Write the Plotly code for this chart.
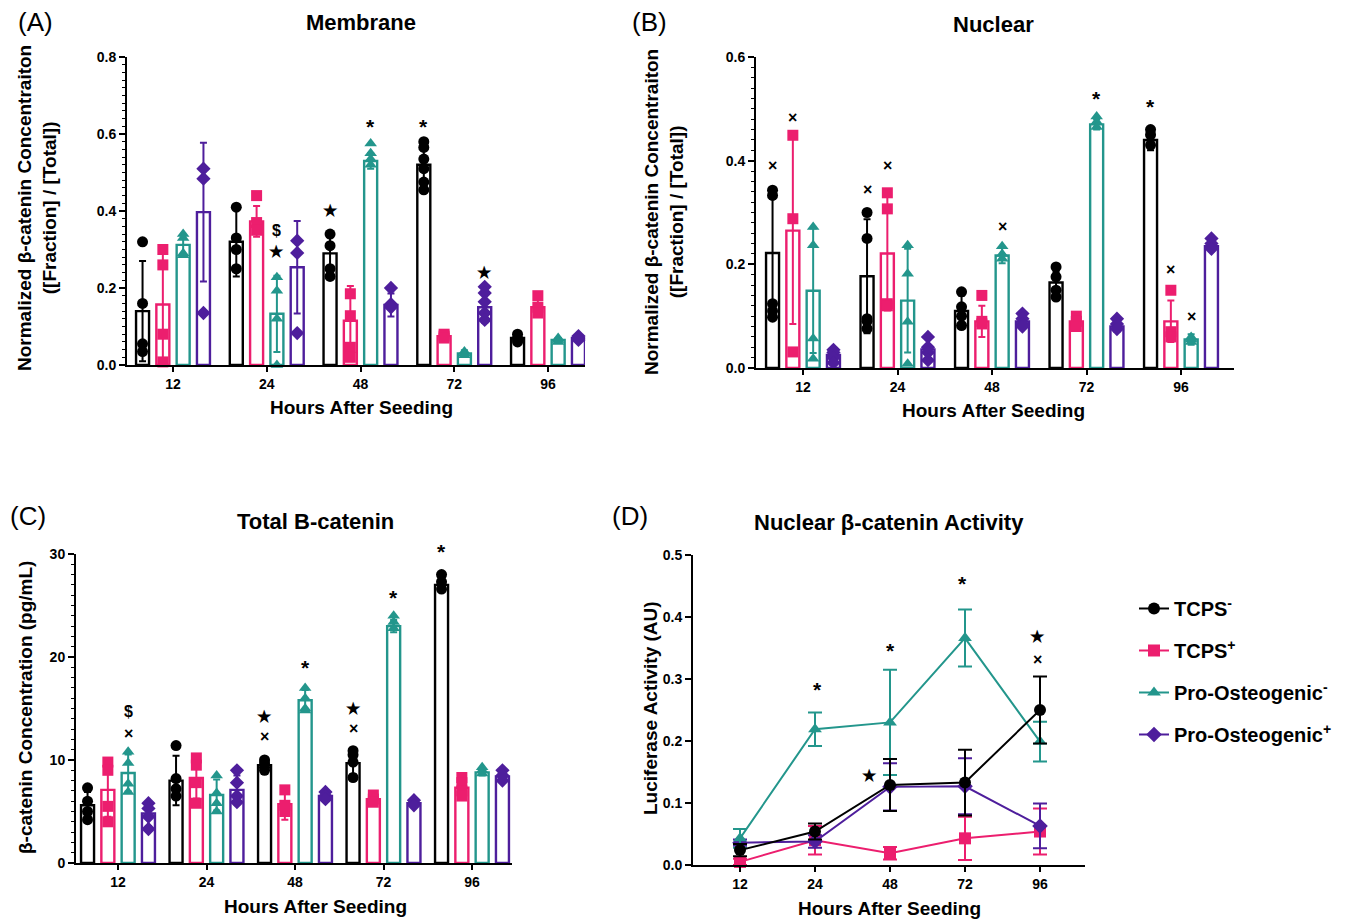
import plotly.graph_objects as go

W, H = 1348, 919
FONT = "Liberation Sans, Arial, sans-serif"

hours = ["12", "24", "48", "72", "96"]
group_names = ["TCPS<sup>-</sup>", "TCPS<sup>+</sup>",
               "Pro-Osteogenic<sup>-</sup>", "Pro-Osteogenic<sup>+</sup>"]
group_colors = ["#000000", "#EC1E6E", "#23968C", "#4E1E9C"]
group_symbols = ["circle", "square", "triangle-up", "diamond"]

# ---------------- (A) Membrane ----------------
membrane_mean = [
    [0.14, 0.32, 0.29, 0.52, 0.07],
    [0.157, 0.373, 0.115, 0.075, 0.15],
    [0.312, 0.133, 0.53, 0.03, 0.065],
    [0.397, 0.254, 0.156, 0.15, 0.07],
]
membrane_sd = [
    [0.13, 0.09, 0.05, 0.04, 0.01],
    [0.145, 0.04, 0.09, 0.005, 0.02],
    [0.025, 0.099, 0.02, 0.008, 0.005],
    [0.18, 0.12, 0.03, 0.04, 0.006],
]
membrane_points = [
    [[0.32, 0.16, 0.055, 0.035], [0.41, 0.33, 0.30, 0.25], [0.34, 0.31, 0.25, 0.23],
     [0.58, 0.565, 0.535, 0.51, 0.475, 0.455], [0.08, 0.07, 0.065, 0.06]],
    [[0.30, 0.26, 0.08, 0.008], [0.44, 0.37, 0.35], [0.185, 0.128, 0.046, 0.02],
     [0.08, 0.075, 0.07], [0.18, 0.15, 0.135]],
    [[0.34, 0.33, 0.29, 0.285], [0.228, 0.193, 0.12, 0.0], [0.575, 0.55, 0.535, 0.52],
     [0.035, 0.03, 0.025], [0.07, 0.065, 0.06]],
    [[0.51, 0.484, 0.135], [0.323, 0.291, 0.083], [0.20, 0.158, 0.15],
     [0.203, 0.187, 0.164, 0.135, 0.117], [0.075, 0.07, 0.065]],
]
membrane_marks = [  # (group, hour index, y, symbol)
    (2, 1, 0.35, "$"), (2, 1, 0.295, "★"), (0, 2, 0.40, "★"),
    (2, 2, 0.63, "*"), (0, 3, 0.63, "*"), (3, 3, 0.24, "★"),
]

# ---------------- (B) Nuclear ----------------
nuclear_mean = [
    [0.222, 0.177, 0.11, 0.165, 0.44],
    [0.265, 0.221, 0.09, 0.09, 0.09],
    [0.149, 0.13, 0.217, 0.47, 0.055],
    [0.025, 0.036, 0.09, 0.08, 0.235],
]
nuclear_sd = [
    [0.12, 0.11, 0.03, 0.02, 0.02],
    [0.18, 0.11, 0.03, 0.01, 0.04],
    [0.12, 0.10, 0.015, 0.01, 0.01],
    [0.01, 0.02, 0.01, 0.01, 0.01],
]
nuclear_points = [
    [[0.343, 0.333, 0.124, 0.11, 0.098], [0.30, 0.25, 0.095, 0.076, 0.09],
     [0.147, 0.118, 0.10, 0.082], [0.195, 0.176, 0.15, 0.137], [0.46, 0.45, 0.43]],
    [[0.449, 0.288, 0.031], [0.338, 0.307, 0.124, 0.12], [0.14, 0.09, 0.085],
     [0.10, 0.09, 0.08], [0.15, 0.07, 0.06]],
    [[0.272, 0.237, 0.057, 0.018], [0.237, 0.182, 0.089, 0.008], [0.235, 0.22, 0.211],
     [0.485, 0.475, 0.465], [0.06, 0.055, 0.05]],
    [[0.035, 0.03, 0.02, 0.01], [0.06, 0.04, 0.03, 0.015], [0.105, 0.095, 0.085, 0.08],
     [0.095, 0.085, 0.075], [0.25, 0.24, 0.23]],
]
nuclear_marks = [
    (0, 0, 0.39, "×"), (1, 0, 0.484, "×"), (0, 1, 0.345, "×"), (1, 1, 0.39, "×"),
    (2, 2, 0.273, "×"), (2, 3, 0.527, "*"), (0, 4, 0.512, "*"),
    (1, 4, 0.19, "×"), (2, 4, 0.10, "×"),
]

# ---------------- (C) Total B-catenin ----------------
total_mean = [
    [5.6, 8.0, 9.5, 9.7, 27.0],
    [7.1, 8.25, 5.7, 6.2, 7.3],
    [8.74, 6.6, 15.8, 23.0, 8.8],
    [4.8, 7.1, 6.5, 5.8, 8.4],
]
total_sd = [
    [1.3, 2.4, 0.4, 1.1, 0.7],
    [2.6, 2.0, 1.5, 0.4, 0.8],
    [1.8, 1.5, 1.0, 0.6, 0.3],
    [1.2, 1.4, 0.4, 0.3, 0.5],
]
total_points = [
    [[7.3, 6.0, 5.0, 4.2], [11.4, 8.2, 7.2, 6.5], [10.0, 9.7, 9.3, 9.0],
     [10.9, 10.5, 9.8, 8.3], [28.0, 27.3, 26.6]],
    [[9.8, 9.0, 5.5, 4.0], [10.2, 9.5, 7.8, 5.8], [7.1, 5.6, 5.0],
     [6.6, 6.2, 5.9], [8.3, 7.8, 7.0, 6.5]],
    [[10.8, 9.7, 7.7, 6.9], [8.5, 6.8, 5.8, 5.0], [17.0, 16.0, 15.0, 14.8],
     [24.0, 23.4, 22.8], [9.3, 9.0, 8.7]],
    [[5.8, 5.3, 4.5, 3.3], [9.0, 7.8, 6.5, 5.9], [6.9, 6.5, 6.2],
     [6.1, 5.8, 5.6], [9.0, 8.5, 8.0]],
]
total_marks = [
    (2, 0, 14.7, "$"), (2, 0, 12.6, "×"), (0, 2, 14.2, "★"), (0, 2, 12.3, "×"),
    (2, 2, 19.4, "*"), (0, 3, 15.0, "★"), (0, 3, 13.1, "×"), (2, 3, 26.2, "*"),
    (0, 4, 30.6, "*"),
]

# ---------------- (D) Nuclear activity ----------------
activity_mean = [
    [0.024, 0.054, 0.129, 0.133, 0.25],
    [0.005, 0.04, 0.019, 0.043, 0.054],
    [0.043, 0.219, 0.23, 0.366, 0.199],
    [0.036, 0.038, 0.126, 0.127, 0.063],
]
activity_sd = [
    [0.01, 0.013, 0.042, 0.053, 0.054],
    [0.005, 0.023, 0.01, 0.035, 0.037],
    [0.015, 0.027, 0.085, 0.046, 0.032],
    [0.005, 0.01, 0.038, 0.045, 0.036],
]
activity_marks = [  # (x position in hour-index units, y, symbol)
    (1.03, 0.29, "*"), (2.0, 0.352, "*"), (2.97, 0.46, "*"),
    (1.73, 0.145, "★"), (3.97, 0.368, "★"), (3.97, 0.332, "×"),
]


def px_x(p):
    return p / W


def px_y(p):
    # empirical vertical correction of the rendered page
    q = (p - 8.0) / 0.9826
    return 1 - q / H


fig = go.Figure()

bar_panels = [
    dict(ax="", left=127, right=585, top=57, bottom=365, c0=173, step=93.75, ymax=0.8, dtick=0.2,
         minor=0.02, fmt=".1f", mean=membrane_mean, sd=membrane_sd, pts=membrane_points,
         marks=membrane_marks),
    dict(ax="2", left=756, right=1234, top=57, bottom=368, c0=803, step=94.5, ymax=0.6, dtick=0.2,
         minor=0.02, fmt=".1f", mean=nuclear_mean, sd=nuclear_sd, pts=nuclear_points,
         marks=nuclear_marks),
    dict(ax="3", left=76, right=512, top=554, bottom=863, c0=118, step=88.5, ymax=30, dtick=10,
         minor=1, fmt="d", mean=total_mean, sd=total_sd, pts=total_points,
         marks=total_marks),
]

tickfont = dict(family=FONT, size=14, color="black", weight="bold")

for p in bar_panels:
    xa = "x" + p["ax"]
    ya = "y" + p["ax"]
    slot = 20.3 / p["step"]
    bw = 13.0 / p["step"]
    ppu = (p["bottom"] - p["top"]) / p["ymax"]  # px per data unit
    for g in range(4):
        off = (g - 1.5) * slot
        xs = [i + off for i in range(len(hours))]
        col = group_colors[g]
        fig.add_trace(go.Bar(
            x=xs, y=p["mean"][g], width=bw, xaxis=xa, yaxis=ya,
            marker=dict(color="white", line=dict(color=col, width=2.4)),
            error_y=dict(type="data", array=p["sd"][g], color=col, thickness=2, width=3.5),
            showlegend=False, hoverinfo="skip"))
    for g in range(4):
        off = (g - 1.5) * slot
        col = group_colors[g]
        px_, py_ = [], []
        for i, vals in enumerate(p["pts"][g]):
            for v in vals:
                px_.append(i + off)
                py_.append(v)
        fig.add_trace(go.Scatter(
            x=px_, y=py_, mode="markers", xaxis=xa, yaxis=ya, cliponaxis=False,
            marker=dict(symbol=group_symbols[g], size=11, color=col, line=dict(width=0)),
            showlegend=False, hoverinfo="skip"))
    for (g, i, yv, s) in p["marks"]:
        shift = -4 if s == "*" else 0
        yy = yv
        if yv > p["ymax"]:
            shift += (yv - p["ymax"]) * ppu
            yy = p["ymax"]
        fig.add_annotation(
            x=i + (g - 1.5) * slot, y=yy, xref=xa, yref=ya, text=s, showarrow=False,
            font=dict(family=FONT, size=21 if s == "*" else 16, color="black", weight="bold"),
            yshift=shift)

    xr = [(p["left"] - p["c0"]) / p["step"], (p["right"] - p["c0"]) / p["step"]]
    fig.update_layout(**{
        "xaxis" + p["ax"]: dict(
            domain=[px_x(p["left"]), px_x(p["right"])], range=xr, anchor=ya,
            tickvals=list(range(len(hours))), ticktext=hours, showline=True, linecolor="black",
            linewidth=2, ticks="outside", ticklen=5, tickwidth=2, tickcolor="black",
            showgrid=False, zeroline=False, tickfont=tickfont),
        "yaxis" + p["ax"]: dict(
            domain=[px_y(p["bottom"]), px_y(p["top"])], range=[0, p["ymax"]], anchor=xa,
            dtick=p["dtick"], tick0=0, tickformat=p["fmt"], showline=True, linecolor="black",
            linewidth=2, ticks="outside", ticklen=6, tickwidth=2, tickcolor="black",
            showgrid=False, zeroline=False, tickfont=tickfont,
            minor=dict(ticks="outside", ticklen=3, tickwidth=1, tickcolor="black",
                       dtick=p["minor"], showgrid=False)),
    })

# ---------------- panel D line chart ----------------
d_left, d_right, d_top, d_bottom, d_c0, d_step = 693, 1085, 555, 865, 740, 75.0
draw_order = [1, 3, 2, 0]
for g in draw_order:
    col = group_colors[g]
    fig.add_trace(go.Scatter(
        x=list(range(len(hours))), y=activity_mean[g], xaxis="x4", yaxis="y4",
        mode="lines+markers", name=group_names[g], legendrank=g + 1, legendgroup=str(g),
        line=dict(color=col, width=2),
        marker=dict(symbol=group_symbols[g], size=12, color=col),
        error_y=dict(type="data", array=activity_sd[g], color=col, thickness=2, width=7),
        cliponaxis=False, hoverinfo="skip"))
for (xv, yv, s) in activity_marks:
    fig.add_annotation(x=xv, y=yv, xref="x4", yref="y4", text=s, showarrow=False,
                       font=dict(family=FONT, size=21 if s == "*" else 16, color="black",
                                 weight="bold"),
                       yshift=-4 if s == "*" else 0)

fig.update_layout(
    xaxis4=dict(domain=[px_x(d_left), px_x(d_right)],
                range=[(d_left - d_c0) / d_step, (d_right - d_c0) / d_step], anchor="y4",
                tickvals=list(range(len(hours))), ticktext=hours, showline=True,
                linecolor="black", linewidth=2, ticks="outside", ticklen=5, tickwidth=2,
                tickcolor="black", showgrid=False, zeroline=False, tickfont=tickfont),
    yaxis4=dict(domain=[px_y(d_bottom), px_y(d_top)], range=[0, 0.5], anchor="x4", dtick=0.1,
                tickformat=".1f", showline=True, linecolor="black", linewidth=2,
                ticks="outside", ticklen=6, tickwidth=2, tickcolor="black", showgrid=False,
                zeroline=False, tickfont=tickfont),
)


# ---------------- text ----------------
def txt(x, y, s, size, bold=True, angle=0, xanchor="center"):
    fig.add_annotation(x=px_x(x), y=px_y(y), xref="paper", yref="paper", text=s,
                       showarrow=False, textangle=angle, xanchor=xanchor, yanchor="middle",
                       font=dict(family=FONT, size=size, color="black",
                                 weight="bold" if bold else "normal"))


txt(16, 22, "(A)", 26, bold=False, xanchor="left")
txt(630, 22, "(B)", 26, bold=False, xanchor="left")
txt(8, 516, "(C)", 26, bold=False, xanchor="left")
txt(610, 516, "(D)", 26, bold=False, xanchor="left")

txt(361, 23, "Membrane", 22)
txt(993, 25, "Nuclear", 22)
txt(315, 522, "Total B-catenin", 22)
txt(889, 523, "Nuclear β-catenin Activity", 22)

txt(361, 408, "Hours After Seeding", 19)
txt(993, 411, "Hours After Seeding", 19)
txt(315, 907, "Hours After Seeding", 19)
txt(889, 909, "Hours After Seeding", 19)

txt(37, 208, "Normalized β-catenin Concentraiton<br>([Fraction] / [Total])", 19, angle=-90)
txt(664, 212, "Normalized β-catenin Concentraiton<br>([Fraction] / [Total])", 19, angle=-90)
txt(26, 708, "β-catenin Concentration (pg/mL)", 19, angle=-90)
txt(651, 708, "Luciferase Activity (AU)", 19, angle=-90)

fig.update_layout(
    width=W, height=H, margin=dict(l=0, r=0, t=0, b=0),
    paper_bgcolor="white", plot_bgcolor="white", barmode="overlay",
    showlegend=True,
    legend=dict(x=px_x(1134), y=px_y(589), xanchor="left", yanchor="top",
                font=dict(family=FONT, size=20, color="black", weight="bold"),
                itemwidth=30, tracegroupgap=13, bgcolor="rgba(0,0,0,0)"),
    font=dict(family=FONT),
)

fig.write_html("out.html", config={"displayModeBar": False},
               post_script="document.body.style.margin='0';document.body.style.overflow='hidden';")
